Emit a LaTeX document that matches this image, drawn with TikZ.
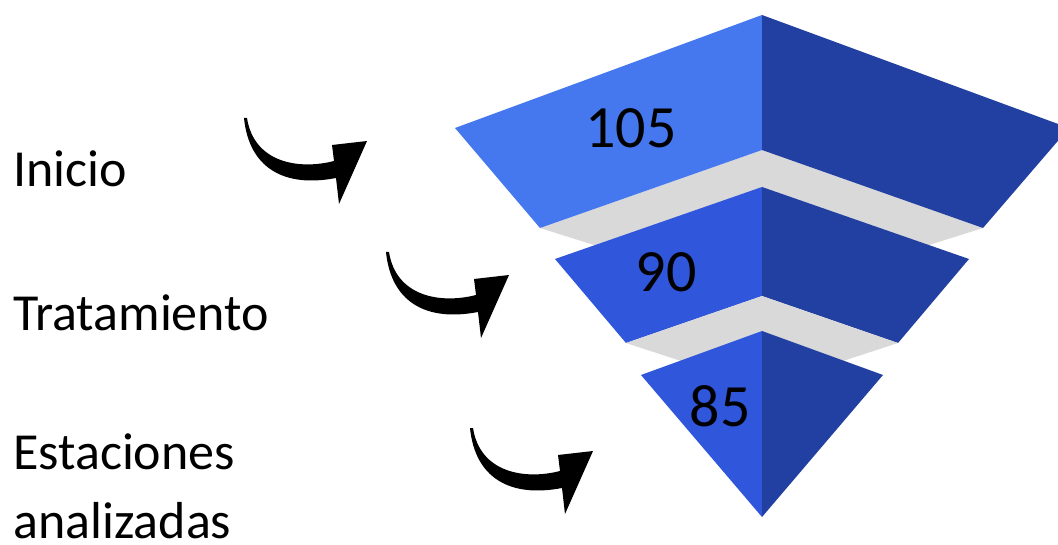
\documentclass[tikz,border=0pt]{standalone}
\usepackage{fontspec}
\setmainfont{Carlito}
\definecolor{lightblue}{RGB}{69,119,239}
\definecolor{midblue}{RGB}{47,86,219}
\definecolor{darkblue}{RGB}{34,64,162}
\definecolor{bandgray}{RGB}{217,217,217}
\tikzset{
  lbl/.style={inner sep=0pt, anchor=base west, font=\fontsize{52}{69}\selectfont, align=left},
  num/.style={inner sep=0pt, font=\fontsize{60}{70}\selectfont},
  curvedarrow/.pic={
    \fill[black] (0,0) .. controls (5,50) and (40,70) .. (92,60)
      -- (95,86) -- (123,23) -- (88,27) -- (90,43)
      .. controls (55,52) and (10,45) .. (3,0) -- cycle;
  }
}
\begin{document}
\begin{tikzpicture}[x=1pt,y=-1pt]
\clip (0,0) rectangle (1058,545);
\fill[white] (0,0) rectangle (1058,545);
% gray band 1 and piece 2
\fill[bandgray] (540,228) -- (762,150) -- (983,228) -- (929,245) -- (762,265) -- (594,245) -- cycle;
\fill[midblue] (762,187) -- (555,259) -- (626,343) -- (762,296) -- cycle;
\fill[darkblue] (762,187) -- (969,259) -- (898,343) -- (762,296) -- cycle;
% gray band 2 and piece 3
\fill[bandgray] (626,343) -- (762,296) -- (898,343) -- (846,360) -- (762,385) -- (678,360) -- cycle;
\fill[midblue] (762,331) -- (641,375) -- (762,517) -- cycle;
\fill[darkblue] (762,331) -- (883,375) -- (762,517) -- cycle;
% piece 1
\fill[lightblue] (762,15) -- (455,128) -- (540,228) -- (762,150) -- cycle;
\fill[darkblue] (762,15) -- (1069,128) -- (983,228) -- (762,150) -- cycle;
% numbers
\node[num] (n105) at (631,128) {105};
\node[num] (n90) at (666,272) {90};
\node[num] (n85) at (720,406) {85};
% labels
\node[lbl] (inicio) at (13,187) {Inicio};
\node[lbl] (trat) at (13,331) {Tratamiento};
\node[lbl] (est) at (13,538) {Estaciones\\analizadas};
% arrows
\pic at (244,118) {curvedarrow};
\pic at (386,252) {curvedarrow};
\pic at (470,428) {curvedarrow};
\end{tikzpicture}
\end{document}
